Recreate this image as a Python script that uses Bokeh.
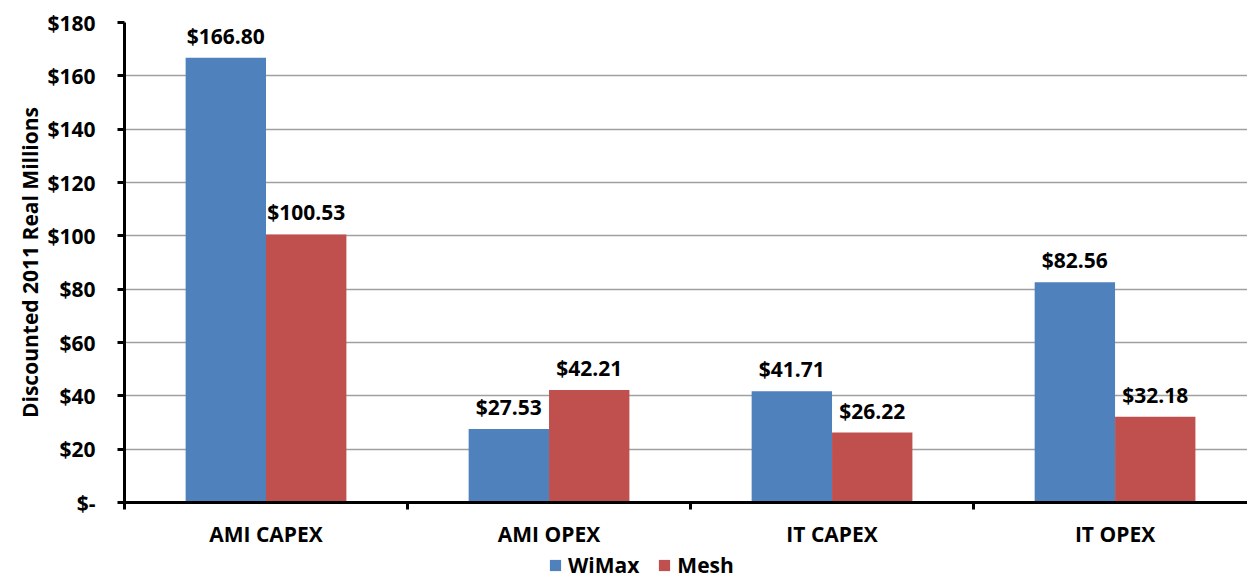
from bokeh.plotting import figure
from bokeh.models import ColumnDataSource, FixedTicker, Legend, LegendItem, Range1d, LabelSet
from bokeh.layouts import column
from bokeh.core.properties import value
from bokeh.embed import file_html
from bokeh.resources import INLINE

categories = ["AMI CAPEX", "AMI OPEX", "IT CAPEX", "IT OPEX"]
wimax = [166.80, 27.53, 41.71, 82.56]
mesh = [100.53, 42.21, 26.22, 32.18]
y_ticks = [0, 20, 40, 60, 80, 100, 120, 140, 160, 180]
y_tick_labels = ["$-", "$20", "$40", "$60", "$80", "$100", "$120", "$140", "$160", "$180"]
series_names = ["WiMax", "Mesh"]

FONT = "Open Sans"
FS = "21px"
BLUE = "#4F81BD"
RED = "#C0504D"
bw = 0.284

p = figure(width=1247, height=550, output_backend="svg", toolbar_location=None,
           x_range=Range1d(0, 3.968), y_range=Range1d(0, 180),
           min_border_left=124, min_border_right=0, min_border_top=22, min_border_bottom=48)
p.outline_line_color = None
p.background_fill_color = "white"

idx = list(range(len(categories)))
src_w = ColumnDataSource(dict(x=[i + 0.5 - bw / 2 for i in idx], y=wimax,
                              lab=["$%.2f" % v for v in wimax]))
src_m = ColumnDataSource(dict(x=[i + 0.5 + bw / 2 for i in idx], y=mesh,
                              lab=["$%.2f" % v for v in mesh]))
p.vbar(x="x", top="y", width=bw, source=src_w, fill_color=BLUE, line_color=None)
p.vbar(x="x", top="y", width=bw, source=src_m, fill_color=RED, line_color=None)

for s in (src_w, src_m):
    p.add_layout(LabelSet(x="x", y="y", text="lab", source=s, text_align="center",
                          text_baseline="bottom", y_offset=8, text_font=value(FONT),
                          text_font_style="bold", text_font_size=value(FS), text_color="black"))

# y axis
p.yaxis.ticker = FixedTicker(ticks=y_ticks, minor_ticks=[])
p.yaxis.major_label_overrides = {t: l for t, l in zip(y_ticks, y_tick_labels)}
p.yaxis.major_label_text_font = FONT
p.yaxis.major_label_text_font_style = "bold"
p.yaxis.major_label_text_font_size = FS
p.yaxis.major_label_text_color = "black"
p.yaxis.axis_line_width = 3
p.yaxis.axis_line_color = "black"
p.yaxis.major_tick_line_width = 3
p.yaxis.major_tick_out = 7
p.yaxis.major_tick_in = 0
p.yaxis.major_label_standoff = 22
p.yaxis.axis_label = "Discounted 2011 Real Millions"
p.yaxis.axis_label_text_font = FONT
p.yaxis.axis_label_text_font_style = "bold"
p.yaxis.axis_label_text_font_size = FS
p.yaxis.axis_label_text_color = "black"
p.yaxis.axis_label_standoff = 0

# x axis
centers = [i + 0.5 for i in idx]
p.xaxis.ticker = FixedTicker(ticks=centers, minor_ticks=list(range(len(categories) + 1)))
p.xaxis.major_label_overrides = {c: n for c, n in zip(centers, categories)}
p.xaxis.major_tick_line_color = None
p.xaxis.minor_tick_line_width = 3
p.xaxis.minor_tick_line_color = "black"
p.xaxis.minor_tick_out = 7
p.xaxis.minor_tick_in = 0
p.xaxis.axis_line_width = 3
p.xaxis.axis_line_color = "black"
p.xaxis.major_label_text_font = FONT
p.xaxis.major_label_text_font_style = "bold"
p.xaxis.major_label_text_font_size = FS
p.xaxis.major_label_text_color = "black"
p.xaxis.major_label_standoff = 10

p.xgrid.grid_line_color = None
p.ygrid.grid_line_color = "#a0a0a0"
p.ygrid.grid_line_width = 1.5
p.ygrid.ticker = FixedTicker(ticks=y_ticks[1:])

# legend strip below the chart
leg = figure(width=1247, height=28, output_backend="svg", toolbar_location=None,
             x_range=Range1d(0, 1), y_range=Range1d(0, 1),
             min_border_left=124, min_border_right=0,
             min_border_top=0, min_border_bottom=0)
leg.axis.visible = False
leg.grid.visible = False
leg.outline_line_color = None
dummy = ColumnDataSource(dict(x=[-5.0], y=[0.0]))
lw = leg.vbar(x="x", top="y", width=0.1, source=dummy, fill_color=BLUE, line_color=None)
lm = leg.vbar(x="x", top="y", width=0.1, source=dummy, fill_color=RED, line_color=None)
legend = Legend(items=[LegendItem(label=series_names[0], renderers=[lw]),
                       LegendItem(label=series_names[1], renderers=[lm])],
                orientation="horizontal", location=(424, -1),
                border_line_color=None, background_fill_alpha=0,
                label_text_font=FONT, label_text_font_style="bold",
                label_text_font_size=FS, label_text_color="black",
                glyph_width=14, glyph_height=14,
                label_standoff=6, spacing=18, padding=0, margin=0)
leg.add_layout(legend)

layout = column(p, leg, spacing=0)
open("out.html", "w").write(file_html(layout, INLINE))
